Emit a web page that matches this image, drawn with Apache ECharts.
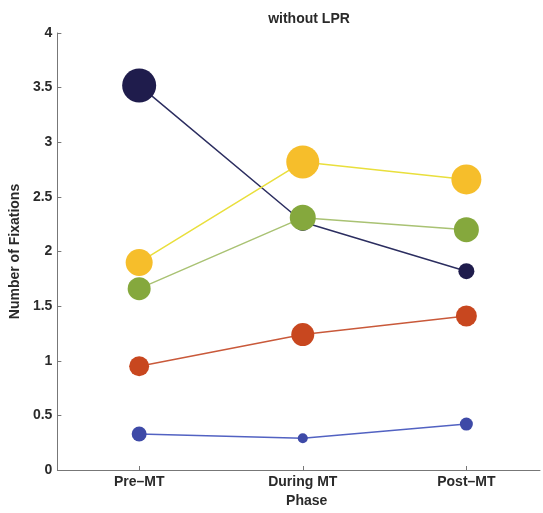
<!DOCTYPE html>
<html>
<head>
<meta charset="utf-8">
<script src="https://cdn.jsdelivr.net/npm/echarts@6/dist/echarts.min.js"></script>
<style>
  html, body { margin: 0; padding: 0; background: #fff; }
  #chart { width: 543px; height: 513px; }
</style>
</head>
<body>
<div id="chart"></div>
<script>
// Phases along the x axis
const phases = ['Pre\u2013MT', 'During MT', 'Post\u2013MT'];
const phasePos = [1, 2, 3];

// Mean number of fixations per phase, one array per group
const navyVals   = [3.52, 2.27, 1.82];
const yellowVals = [1.90, 2.82, 2.66];
const greenVals  = [1.66, 2.31, 2.20];
const redVals    = [0.95, 1.24, 1.41];
const blueVals   = [0.33, 0.29, 0.42];

// Marker diameters per phase (encodes group weight)
const navySizes   = [34, 18, 16];
const yellowSizes = [27, 33, 30];
const greenSizes  = [23, 26, 25];
const redSizes    = [20, 23, 21];
const blueSizes   = [15, 10, 13];

const groups = [
  { vals: navyVals,   sizes: navySizes,   marker: '#1f1c4c', line: '#2c2e60' },
  { vals: yellowVals, sizes: yellowSizes, marker: '#f6be2b', line: '#e9df3c' },
  { vals: greenVals,  sizes: greenSizes,  marker: '#85a83d', line: '#a9c273' },
  { vals: redVals,    sizes: redSizes,    marker: '#c8471f', line: '#c9593a' },
  { vals: blueVals,   sizes: blueSizes,   marker: '#3e4aa7', line: '#5262c2' }
];

const font = 'Liberation Sans, Arial, Helvetica, sans-serif';
const textColor = '#2a2a2a';
const fs = 14;

const series = groups.map(g => ({
  type: 'line',
  data: g.vals.map((v, i) => ({
    value: [phasePos[i], v],
    symbolSize: g.sizes[i]
  })),
  symbol: 'circle',
  showAllSymbol: true,
  lineStyle: { color: g.line, width: 1.5 },
  itemStyle: { color: g.marker, borderWidth: 0 },
  emphasis: { disabled: true },
  animation: false
}));

const chart = echarts.init(document.getElementById('chart'), null, { renderer: 'canvas' });
chart.setOption({
  backgroundColor: '#ffffff',
  title: {
    text: 'without LPR',
    left: 304,
    top: 7,
    textAlign: 'center',
    textStyle: { fontFamily: font, fontSize: fs, fontWeight: 'bold', color: textColor }
  },
  grid: { left: 55, right: 3, top: 33, bottom: 43, containLabel: false },
  xAxis: {
    type: 'value',
    min: 0.5,
    max: 3.45,
    name: 'Phase',
    nameLocation: 'middle',
    nameGap: 21,
    nameTextStyle: { fontFamily: font, fontSize: fs, fontWeight: 'bold', color: textColor, padding: [0, 0, 0, 16] },
    axisLine: { show: true, lineStyle: { color: '#777', width: 1 } },
    axisTick: { show: true, inside: true, length: 4, customValues: phasePos, lineStyle: { color: '#777' } },
    axisLabel: {
      customValues: phasePos,
      formatter: v => phases[phasePos.indexOf(Math.round(v))] || '',
      margin: 5,
      fontFamily: font, fontSize: fs, fontWeight: 'bold', color: textColor
    },
    splitLine: { show: false }
  },
  yAxis: {
    type: 'value',
    min: 0,
    max: 4,
    interval: 0.5,
    name: 'Number of Fixations',
    nameLocation: 'middle',
    nameGap: 34,
    nameTextStyle: { fontFamily: font, fontSize: fs, fontWeight: 'bold', color: textColor },
    axisLine: { show: true, lineStyle: { color: '#777', width: 1 } },
    axisTick: { show: true, inside: true, length: 4, lineStyle: { color: '#777' } },
    axisLabel: {
      margin: 5,
      formatter: v => String(v),
      fontFamily: font, fontSize: fs, fontWeight: 'bold', color: textColor
    },
    splitLine: { show: false }
  },
  series: series
});
</script>
</body>
</html>
